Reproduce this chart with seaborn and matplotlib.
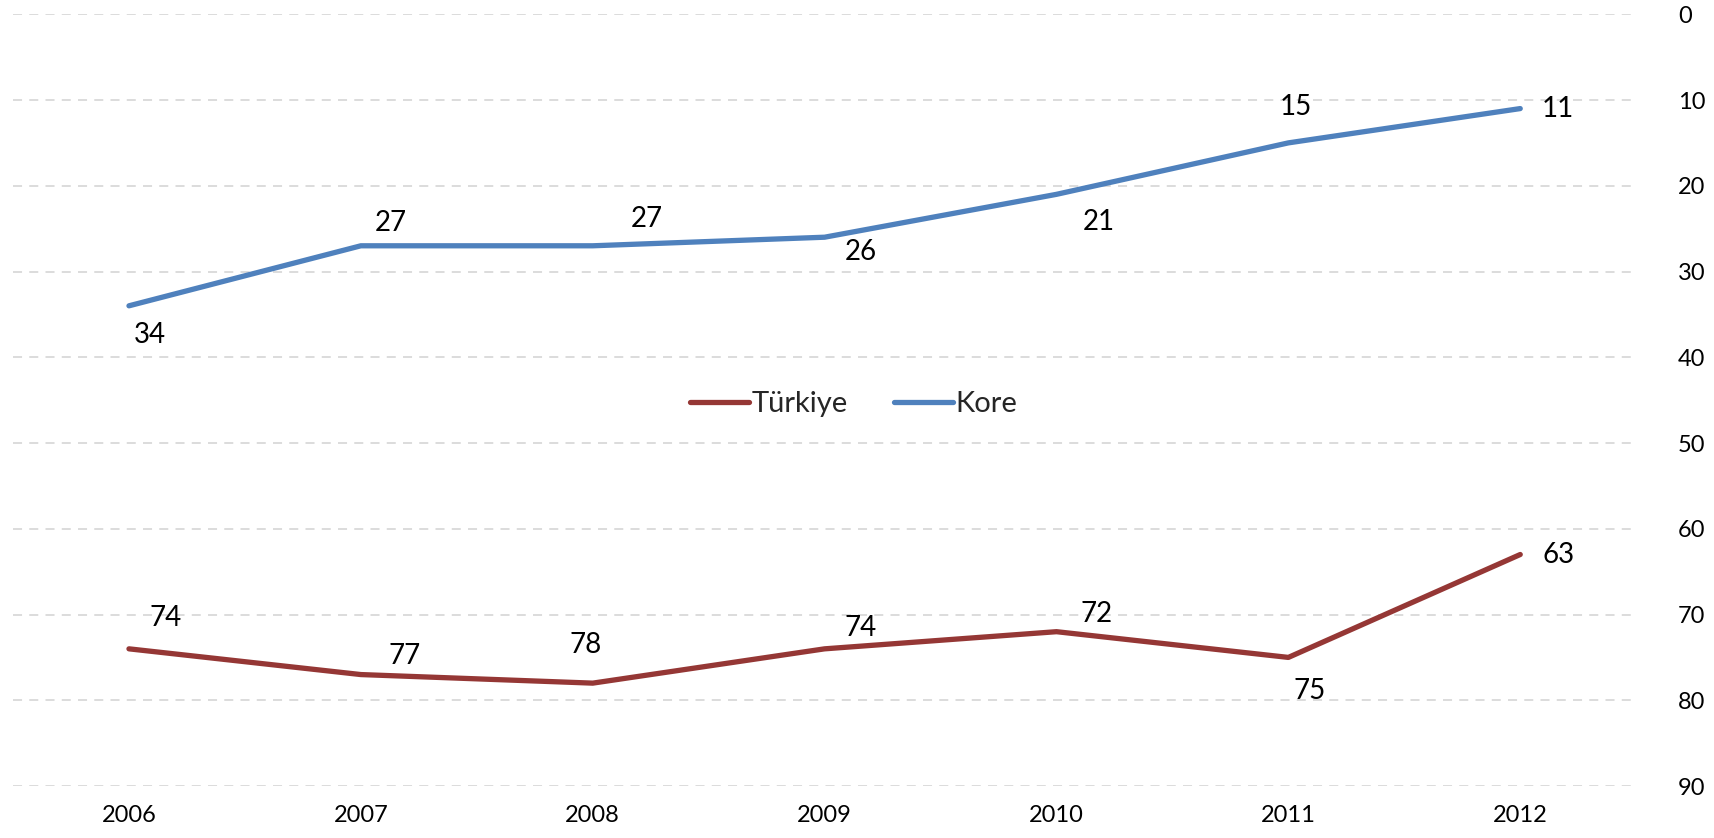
import numpy as np
import matplotlib
matplotlib.use("Agg")
import matplotlib.pyplot as plt
import pandas as pd
import seaborn as sns

# Data
years = [2006, 2007, 2008, 2009, 2010, 2011, 2012]
kore = [34, 27, 27, 26, 21, 15, 11]
turkiye = [74, 77, 78, 74, 72, 75, 63]
series_names = ["Türkiye", "Kore"]
y_ticks = [0, 10, 20, 30, 40, 50, 60, 70, 80, 90]

# label offsets in pixels (dx right, dy down) so numbers sit where they do in the original
kore_offsets = [(21, 29), (30, -23), (54, -27), (36, 15), (42, 28), (7, -36), (38, 0)]
turkiye_offsets = [(37, -31), (44, -19), (-7, -38), (36, -21), (40, -18), (21, 34), (38, 0)]

sns.set_style("white")
plt.rcParams['font.family'] = ['Lato', 'DejaVu Sans']

df = pd.DataFrame({
    "year": years * 2,
    "value": turkiye + kore,
    "country": ["Türkiye"] * len(years) + ["Kore"] * len(years),
})

colors = {"Türkiye": "#953735", "Kore": "#4F81BD"}

fig = plt.figure(figsize=(17.14, 8.38), dpi=100)
ax = fig.add_axes([0.0076, 0.062, 0.947, 0.921])

sns.lineplot(data=df, x="year", y="value", hue="country", hue_order=series_names,
             palette=colors, linewidth=3.8, ax=ax, solid_capstyle="round")

# data labels
for vals, offs in [(kore, kore_offsets), (turkiye, turkiye_offsets)]:
    for x, v, (dx, dy) in zip(years, vals, offs):
        ax.annotate(str(v), (x, v), xytext=(dx, -dy), textcoords="offset pixels",
                    ha="center", va="center", fontsize=20, color="black")

ax.set_xlim(2005.5, 2012.5)
ax.set_ylim(90, 0)
ax.set_yticks(y_ticks)
ax.set_xticks(years)
ax.set_xticklabels([str(y) for y in years])
ax.yaxis.tick_right()
ax.tick_params(axis="y", length=0, labelsize=17, pad=30, labelcolor="black")
ax.tick_params(axis="x", length=0, labelsize=17, pad=14, labelcolor="black")
ax.set_xlabel("")
ax.set_ylabel("")
ax.grid(axis="y", color="#d9d9d9", linestyle=(0, (5, 4)), linewidth=1.3)
ax.grid(axis="x", visible=False)
for s in ax.spines.values():
    s.set_visible(False)

leg = ax.legend(loc="center", bbox_to_anchor=(0.518, 0.495), ncol=2, frameon=False,
                fontsize=21, handlelength=2.0, handletextpad=0.1, columnspacing=1.6)
for line in leg.get_lines():
    line.set_linewidth(3.8)

fig.savefig("out.png", dpi=100)
